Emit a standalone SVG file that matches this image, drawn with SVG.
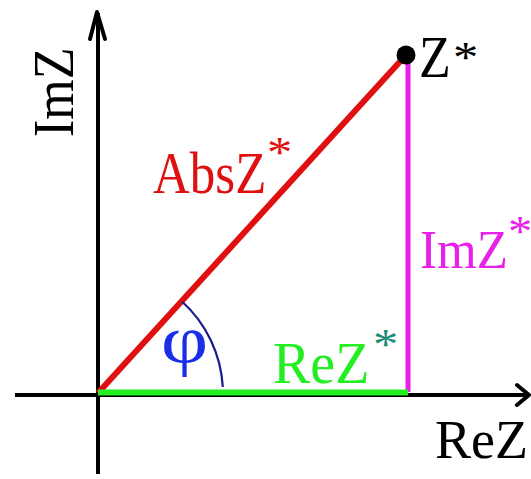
<svg xmlns="http://www.w3.org/2000/svg" width="531" height="479" viewBox="0 0 531 479">
<style>
text{font-family:'Liberation Serif','DejaVu Serif','Times New Roman',serif;}
.ax{stroke:#000;stroke-width:4;fill:none;stroke-linecap:butt}
.ah{stroke:#000;stroke-width:4;fill:none;stroke-linecap:round;stroke-linejoin:round}
</style>
<rect width="531" height="479" fill="#fff"/>
<g id="connectors">
  <g id="axis-re">
    <line class="ax" x1="15" y1="395" x2="528" y2="395"/>
    <polyline class="ah" points="517,385 529,395 517,405"/>
  </g>
  <g id="axis-im">
    <line class="ax" x1="98" y1="474" x2="98" y2="13"/>
    <polyline class="ah" points="90,39 97,12 105,39"/>
  </g>
  <line id="abs-line" x1="98" y1="393" x2="406" y2="55" stroke="#e01010" stroke-width="6"/>
  <line id="im-line" x1="408" y1="56" x2="408" y2="392" stroke="#e820e8" stroke-width="5"/>
  <line id="re-line" x1="98" y1="392.5" x2="408" y2="392.5" stroke="#22ee22" stroke-width="6"/>
  <path id="angle-arc" d="M182,301.5 A125,125 0 0 1 222.8,387" fill="none" stroke="#1a1a8c" stroke-width="2.2"/>
</g>
<g id="point-z">
  <circle cx="406" cy="55" r="9.5" fill="#000"/>
  <text transform="translate(419,77) scale(1,1.13)" font-size="52" fill="#000">Z</text>
  <text transform="translate(453,72) scale(1.15,1)" font-size="44" fill="#000">*</text>
</g>
<g id="label-imz-axis">
  <text transform="translate(73,137) rotate(-90) scale(1,1.1)" font-size="52" fill="#000">ImZ</text>
</g>
<g id="label-rez-axis">
  <text x="435" y="458" font-size="54" fill="#000">ReZ</text>
</g>
<g id="label-abs">
  <text transform="translate(153,193) scale(1,1.18)" font-size="51" fill="#e01010">AbsZ</text>
  <text transform="translate(267,167) scale(1.15,1)" font-size="44" fill="#e01010">*</text>
</g>
<g id="label-im">
  <text transform="translate(420,268) scale(1,1.07)" font-size="51" fill="#e820e8">ImZ</text>
  <text transform="translate(508,246) scale(1.1,1)" font-size="44" fill="#e820e8">*</text>
</g>
<g id="label-re">
  <text transform="translate(273,383) scale(1,1.05)" font-size="56" fill="#22ee22">ReZ</text>
  <text transform="translate(373,359) scale(1.15,1)" font-size="44" fill="#1f8a78">*</text>
</g>
<g id="label-phi">
  <text transform="translate(161,363) scale(1.2,1)" font-size="68" fill="#1a2ee8">φ</text>
</g>
</svg>
